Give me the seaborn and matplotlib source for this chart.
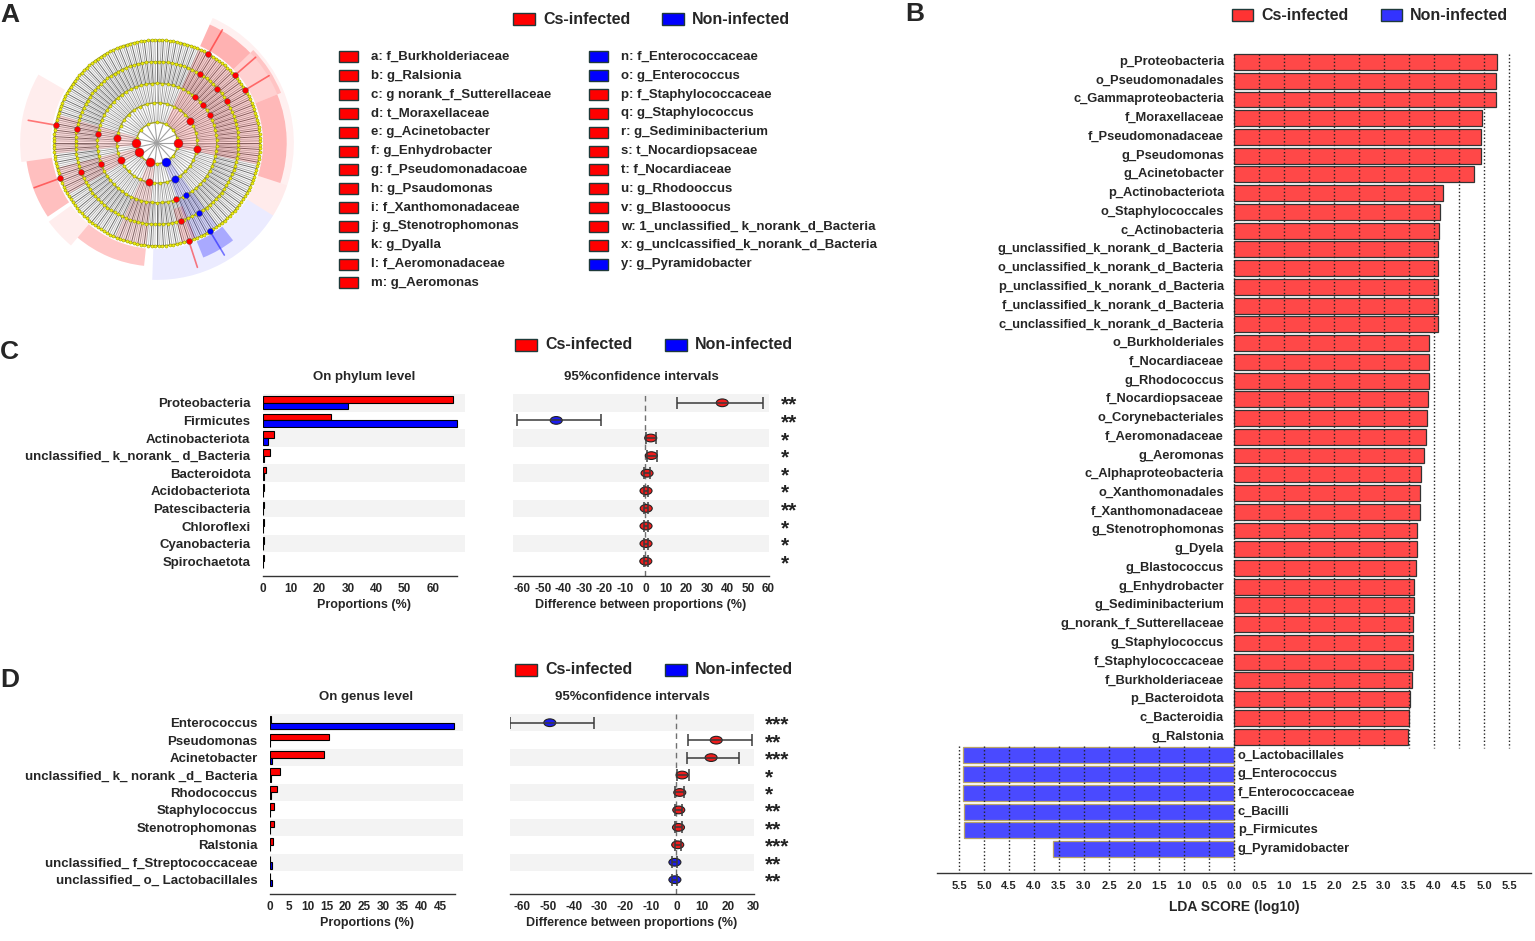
import numpy as np
import pandas as pd
import seaborn as sns
import matplotlib
matplotlib.use('Agg')
import matplotlib.pyplot as plt
from matplotlib.patches import Wedge, Rectangle
from matplotlib.path import Path
from matplotlib.transforms import Affine2D, blended_transform_factory
from matplotlib.collections import LineCollection

# ---------------- data ----------------
groups = ['Cs-infected', 'Non-infected']

# panel A: cladogram legend
clado_labels = ['a: f_Burkholderiaceae', 'b: g_Ralsionia', 'c: g norank_f_Sutterellaceae',
                'd: t_Moraxellaceae', 'e: g_Acinetobacter', 'f: g_Enhydrobacter',
                'g: f_Pseudomonadacoae', 'h: g_Psaudomonas', 'i: f_Xanthomonadaceae',
                'j: g_Stenotrophomonas', 'k: g_Dyalla', 'l: f_Aeromonadaceae', 'm: g_Aeromonas',
                'n: f_Enterococcaceae', 'o: g_Enterococcus', 'p: f_Staphylococcaceae',
                'q: g_Staphylococcus', 'r: g_Sediminibacterium', 's: t_Nocardiopsaceae',
                't: f_Nocardiaceae', 'u: g_Rhodooccus', 'v: g_Blastooocus',
                'w: 1_unclassified_ k_norank_d_Bacteria', 'x: g_unclcassified_k_norank_d_Bacteria',
                'y: g_Pyramidobacter']
clado_groups = ['Cs-infected'] * 13 + ['Non-infected'] * 2 + ['Cs-infected'] * 9 + ['Non-infected']

# cladogram biomarker nodes: group, taxonomic level (0 = phylum .. 4 = genus), angle (deg)
node_group = ['Cs-infected'] * 27 + ['Non-infected'] * 5
node_level = [0, 1, 1, 2, 2, 2, 3, 3, 3, 4, 4, 4,
              0, 1, 2, 3, 4,
              0, 1, 2, 3, 4,
              0, 1, 2, 3, 4,
              0, 1, 2, 3, 4]
node_angle = [0, 34, -8, 51, 39, 28, 58, 42, 31, 60, 41, 31,
              180, 173, 171, 170, 170,
              -153, -155, -159, -159, -160,
              -110, -101, -71, -73, -72,
              -64, -64, -61, -59, -59]
ring_radius = [0.2, 0.39, 0.58, 0.79, 1.0]
ring_nodes = [14, 36, 70, 120, 180]

# cladogram clade shading: group, inner radius, outer radius, start angle, end angle, alpha
shade_group = ['Cs-infected', 'Non-infected', 'Cs-infected', 'Cs-infected', 'Cs-infected', 'Cs-infected',
               'Cs-infected', 'Cs-infected', 'Cs-infected', 'Cs-infected', 'Non-infected', 'Non-infected',
               'Cs-infected', 'Cs-infected', 'Cs-infected', 'Cs-infected', 'Cs-infected']
shade_r0 = [0.20, 0.24, 0.20, 0.22, 0.24, 0.66, 1.03, 1.03, 1.03, 1.03, 1.03, 1.03, 1.03, 1.03, 1.03, 1.03, 1.26]
shade_r1 = [1.00, 1.00, 1.00, 1.00, 1.00, 1.00, 1.26, 1.30, 1.26, 1.33, 1.33, 1.20, 1.20, 1.30, 1.28, 1.33, 1.33]
shade_a0 = [-12, -70, 164, -166, -114, -76, 44, 22, -18, -32, -92, -68, -130, -144, -172, 150, -18]
shade_a1 = [66, -54, 186, -150, -96, -68, 66, 44, 22, -18, -32, -52, -96, -130, -146, 188, 66]
shade_alpha = [0.16, 0.14, 0.12, 0.12, 0.10, 0.15, 0.30, 0.18, 0.28, 0.08, 0.08, 0.28, 0.22, 0.07, 0.25, 0.07, 0.06]

# panel B: LDA scores
lda_names = ['p_Proteobacteria', 'o_Pseudomonadales', 'c_Gammaproteobacteria', 'f_Moraxellaceae',
             'f_Pseudomonadaceae', 'g_Pseudomonas', 'g_Acinetobacter', 'p_Actinobacteriota',
             'o_Staphylococcales', 'c_Actinobacteria', 'g_unclassified_k_norank_d_Bacteria',
             'o_unclassified_k_norank_d_Bacteria', 'p_unclassified_k_norank_d_Bacteria',
             'f_unclassified_k_norank_d_Bacteria', 'c_unclassified_k_norank_d_Bacteria',
             'o_Burkholderiales', 'f_Nocardiaceae', 'g_Rhodococcus', 'f_Nocardiopsaceae',
             'o_Corynebacteriales', 'f_Aeromonadaceae', 'g_Aeromonas', 'c_Alphaproteobacteria',
             'o_Xanthomonadales', 'f_Xanthomonadaceae', 'g_Stenotrophomonas', 'g_Dyela',
             'g_Blastococcus', 'g_Enhydrobacter', 'g_Sediminibacterium', 'g_norank_f_Sutterellaceae',
             'g_Staphylococcus', 'f_Staphylococcaceae', 'f_Burkholderiaceae', 'p_Bacteroidota',
             'c_Bacteroidia', 'g_Ralstonia',
             'o_Lactobacillales', 'g_Enterococcus', 'f_Enterococcaceae', 'c_Bacilli',
             'p_Firmicutes', 'g_Pyramidobacter']
lda_scores = [5.26, 5.24, 5.24, 4.96, 4.94, 4.94, 4.80, 4.18, 4.12, 4.10,
              4.08, 4.08, 4.08, 4.08, 4.08, 3.90, 3.90, 3.89, 3.88, 3.86,
              3.84, 3.80, 3.74, 3.72, 3.72, 3.66, 3.66, 3.64, 3.60, 3.60,
              3.58, 3.58, 3.58, 3.56, 3.52, 3.50, 3.48,
              5.42, 5.42, 5.42, 5.40, 5.40, 3.62]
lda_groups = ['Cs-infected'] * 37 + ['Non-infected'] * 6
lda_ticks = np.arange(-5.5, 5.51, 0.5)

# panel C: phylum level
phyla = ['Proteobacteria', 'Firmicutes', 'Actinobacteriota', 'unclassified_ k_norank_ d_Bacteria',
         'Bacteroidota', 'Acidobacteriota', 'Patescibacteria', 'Chloroflexi', 'Cyanobacteria',
         'Spirochaetota']
phy_cs = [67.0, 24.0, 4.0, 2.6, 1.0, 0.3, 0.4, 0.3, 0.3, 0.2]
phy_non = [30.0, 68.5, 1.8, 0.2, 0.5, 0.1, 0.1, 0.1, 0.1, 0.1]
phy_diff = [37.5, -43.5, 2.6, 2.9, 0.8, 0.3, 0.4, 0.3, 0.3, 0.2]
phy_lo = [15.6, -62.8, 0.3, 0.6, -0.6, -0.8, -0.7, -0.8, -0.8, -0.8]
phy_hi = [57.5, -21.9, 5.0, 5.6, 2.0, 1.4, 1.5, 1.4, 1.4, 1.3]
phy_sig = ['**', '**', '*', '*', '*', '*', '**', '*', '*', '*']

# panel D: genus level
genera = ['Enterococcus', 'Pseudomonas', 'Acinetobacter', 'unclassified_ k_ norank _d_ Bacteria',
          'Rhodococcus', 'Staphylococcus', 'Stenotrophomonas', 'Ralstonia',
          'unclassified_ f_Streptococcaceae', 'unclassified_ o_ Lactobacillales']
gen_cs = [0.2, 15.7, 14.3, 2.6, 1.8, 1.1, 1.1, 0.8, 0.1, 0.1]
gen_non = [48.8, 0.1, 0.5, 0.2, 0.2, 0.1, 0.1, 0.1, 0.5, 0.4]
gen_diff = [-49.3, 15.5, 13.5, 2.2, 1.3, 0.9, 0.8, 0.5, -0.6, -0.6]
gen_lo = [-64.9, 4.5, 4.3, 0.3, -0.4, -0.5, -0.5, -0.6, -1.8, -1.6]
gen_hi = [-32.0, 29.6, 24.2, 4.8, 3.0, 2.2, 2.1, 1.6, 0.4, 0.4]
gen_sig = ['***', '**', '***', '*', '*', '**', '**', '***', '**', '**']

# ---------------- style ----------------
sns.set_style('white')
plt.rcParams['font.family'] = ['Liberation Sans', 'DejaVu Sans']
plt.rcParams['font.weight'] = 'bold'
plt.rcParams['axes.labelweight'] = 'bold'
plt.rcParams['axes.titleweight'] = 'bold'
plt.rcParams['axes.unicode_minus'] = False

RED, BLUE = '#ff0000', '#0000ff'
pal_bar = {'Cs-infected': RED, 'Non-infected': BLUE}
pal_lda = {'Cs-infected': '#ff4848', 'Non-infected': '#4a4aff'}
pal_pt = {'Cs-infected': '#f01c1c', 'Non-infected': '#1c1cf0'}

W, H = 1535, 941
fig = plt.figure(figsize=(W / 100, H / 100), dpi=100)


def px_axes(x0, y0, x1, y1):
    return fig.add_axes([x0 / W, 1 - y1 / H, (x1 - x0) / W, (y1 - y0) / H])


def legend_pair(xr, xb, y, box_w=22, box_h=12, size=11.5, gap=8, colors=(RED, BLUE)):
    for x, g, c in zip((xr, xb), groups, colors):
        fig.patches.append(Rectangle((x / W, 1 - (y + box_h / 2) / H), box_w / W, box_h / H,
                                     transform=fig.transFigure, facecolor=c,
                                     edgecolor='#1f3a3a', lw=1))
        fig.text((x + box_w + gap) / W, 1 - y / H, g, fontsize=size, va='center')


def panel_letter(x, y, s):
    fig.text(x / W, 1 - y / H, s, fontsize=19, weight='bold', va='center')


def style_bottom(ax, bounds=None):
    for s in ('left', 'right', 'top'):
        ax.spines[s].set_visible(False)
    ax.spines['bottom'].set_color('#333333')
    ax.spines['bottom'].set_linewidth(1)
    if bounds is not None:
        ax.spines['bottom'].set_bounds(*bounds)
    ax.tick_params(axis='x', direction='in', length=4, width=1, color='#333333',
                   labelsize=8.5, pad=5)
    ax.tick_params(axis='y', length=0)


def stripes(ax, n):
    for i in range(0, n, 2):
        ax.axhspan(i - 0.5, i + 0.5, color='#f3f3f3', lw=0, zorder=0)


def prop_panel(ax, names, cs, non, xlim, ticks, bound, title, ylim_bottom):
    n = len(names)
    df = pd.DataFrame({'taxon': names * 2, 'value': cs + non,
                       'group': ['Cs-infected'] * n + ['Non-infected'] * n})
    sns.barplot(data=df, x='value', y='taxon', hue='group', order=names, hue_order=groups,
                palette=pal_bar, saturation=1, orient='h', width=0.76, edgecolor='black',
                linewidth=0.8, legend=False, ax=ax)
    stripes(ax, n)
    ax.set_xlim(*xlim)
    ax.set_ylim(ylim_bottom, -0.5)
    ax.set_xticks(ticks)
    style_bottom(ax, bound)
    ax.tick_params(axis='y', labelsize=9.5, pad=9)
    ax.set_ylabel('')
    ax.set_xlabel('Proportions (%)', fontsize=9, labelpad=3)
    ax.set_title(title, fontsize=9.5, pad=10)


ELLIPSE = Path.unit_circle().transformed(Affine2D().scale(1.0, 0.64))


def ci_panel(ax, names, diff, lo, hi, sig, xlim, ticks, ylim_bottom):
    n = len(names)
    rows = np.arange(n)
    stripes(ax, n)
    ax.axvline(0, color='#707070', ls=(0, (4, 3)), lw=1, zorder=1)
    direction = ['Cs-infected' if d > 0 else 'Non-infected' for d in diff]
    sns.scatterplot(x=diff, y=rows, hue=direction, palette=pal_pt, marker=ELLIPSE, s=75,
                    edgecolor='#222222', linewidth=0.8, legend=False, zorder=3, ax=ax)
    d = np.array(diff)
    ax.errorbar(d, rows, xerr=[d - np.array(lo), np.array(hi) - d], fmt='none',
                ecolor='#3a3a3a', elinewidth=1.1, capsize=4, capthick=1.1, zorder=4)
    tr = blended_transform_factory(ax.transAxes, ax.transData)
    for r, s in zip(rows, sig):
        ax.text(1.046, r + 0.45, s, transform=tr, fontsize=15, ha='left', va='baseline',
                color='#222222')
    ax.set_xlim(*xlim)
    ax.set_ylim(ylim_bottom, -0.5)
    ax.set_yticks([])
    ax.set_xticks(ticks)
    style_bottom(ax)
    ax.set_xlabel('Difference between proportions (%)', fontsize=9, labelpad=3)
    ax.set_title('95%confidence intervals', fontsize=9.5, pad=10)


# ---------------- panel A ----------------
panel_letter(0, 15, 'A')
legend_pair(513, 662, 19)
axA = px_axes(17, 3, 297, 283)
axA.set_xlim(-1.36, 1.36)
axA.set_ylim(-1.36, 1.36)
axA.set_aspect('equal')
axA.axis('off')

# tree spokes (leaves evenly spaced around the circle)
for r0, r1, step, cols, lw in [(0.0, 0.2, 24, ['#a0a0a0'], 0.8),
                               (0.2, 0.39, 4, ['#9a9a9a', '#c4c4c4'], 0.7),
                               (0.39, 0.58, 2, ['#8e8e8e', '#bcbcbc'], 0.6),
                               (0.58, 1.0, 1.2, ['#6e6e6e', '#a8a8a8', '#c6c6c6'], 0.7)]:
    ang = np.deg2rad(np.arange(0, 360, step))
    segs = [[(r0 * np.cos(a), r0 * np.sin(a)), (r1 * np.cos(a), r1 * np.sin(a))] for a in ang]
    axA.add_collection(LineCollection(segs, colors=[cols[i % len(cols)] for i in range(len(segs))],
                                      linewidths=lw, zorder=1))

for g, r0, r1, a0, a1, al in zip(shade_group, shade_r0, shade_r1, shade_a0, shade_a1, shade_alpha):
    axA.add_patch(Wedge((0, 0), r1, a0, a1, width=r1 - r0, facecolor=pal_bar[g],
                        alpha=al, lw=0, zorder=2))

for r, cnt in zip(ring_radius, ring_nodes):
    axA.add_patch(plt.Circle((0, 0), r, fill=False, color='#a0a020', lw=1.0, zorder=3))
    ang = np.deg2rad(np.linspace(0, 360, cnt, endpoint=False) + 360 / cnt / 2)
    axA.scatter(r * np.cos(ang), r * np.sin(ang), s=5, c='#eeee10', edgecolors='#8a8a00',
                linewidths=0.3, zorder=4)

for g, lv, a in zip(node_group, node_level, node_angle):
    r = ring_radius[lv]
    t = np.deg2rad(a)
    if lv == 4:
        axA.plot([1.0 * np.cos(t), 1.27 * np.cos(t)], [1.0 * np.sin(t), 1.27 * np.sin(t)],
                 color=pal_bar[g], alpha=0.5, lw=1.2, zorder=3)
    axA.scatter([r * np.cos(t)], [r * np.sin(t)], s=[42, 28, 18, 18, 18][lv],
                c=pal_bar[g], edgecolors='#555555', linewidths=0.3, zorder=5)

for i, (lab, g) in enumerate(zip(clado_labels, clado_groups)):
    col, row = (0, i) if i < 13 else (1, i - 13)
    bx = [339, 589][col]
    tx = [371, 621][col]
    y = 57 + row * 18.83
    fig.patches.append(Rectangle((bx / W, 1 - (y + 5.5) / H), 19 / W, 11 / H,
                                 transform=fig.transFigure, facecolor=pal_bar[g],
                                 edgecolor='#1f3a3a', lw=1))
    fig.text(tx / W, 1 - y / H, lab, fontsize=9.5, va='center')

# ---------------- panel B ----------------
panel_letter(905, 14, 'B')
legend_pair(1232, 1381, 15, box_w=21, colors=('#ff3333', '#3333ff'))
axB = px_axes(937, 50.4, 1531, 873)
signed = [s if g == 'Cs-infected' else -s for s, g in zip(lda_scores, lda_groups)]
sns.barplot(x=signed, y=lda_names, hue=lda_groups, hue_order=groups, palette=pal_lda,
            saturation=1, order=lda_names, dodge=False, orient='h', width=0.85,
            edgecolor='#333333', linewidth=0.9, legend=False, ax=axB)
for p in axB.patches:
    if p.get_width() < 0:
        p.set_edgecolor('#b8a468')
n_red = lda_groups.count('Cs-infected')
axB.set_xlim(-5.94, 5.94)
axB.set_ylim(len(lda_names) - 1 + 1.28, -0.62)
pos = np.arange(0, 5.51, 0.5)
axB.vlines(pos, -0.45, n_red - 0.4, colors='#222222', linestyles=(0, (1, 1.6)), lw=1, zorder=4)
axB.vlines(-pos, n_red - 0.5, len(lda_names) + 0.3, colors='#222222', linestyles=(0, (1, 1.6)),
           lw=1, zorder=4)
for i, (nm, g) in enumerate(zip(lda_names, lda_groups)):
    if g == 'Cs-infected':
        axB.text(-0.2, i, nm, ha='right', va='center', fontsize=9.3)
    else:
        axB.text(0.08, i, nm, ha='left', va='center', fontsize=9.3)
axB.set_yticks([])
axB.set_xticks(lda_ticks)
axB.set_xticklabels([f'{abs(t):.1f}' for t in lda_ticks])
style_bottom(axB)
axB.tick_params(axis='x', labelsize=8, length=5, pad=6)
axB.set_xlabel('LDA SCORE (log10)', fontsize=10, labelpad=6)

# ---------------- panel C ----------------
panel_letter(0, 352, 'C')
legend_pair(515, 665, 345)
axC1 = px_axes(263, 394, 465, 576)
prop_panel(axC1, phyla, phy_cs, phy_non, (0, 71.4), np.arange(0, 61, 10), (0, 68.5),
           'On phylum level', 9.84)
axC2 = px_axes(513, 394, 769, 576)
ci_panel(axC2, phyla, phy_diff, phy_lo, phy_hi, phy_sig, (-64.6, 60.3),
         np.arange(-60, 61, 10), 9.84)

# ---------------- panel D ----------------
panel_letter(0, 680, 'D')
legend_pair(515, 665, 670)
axD1 = px_axes(270, 714, 463, 894)
prop_panel(axD1, genera, gen_cs, gen_non, (0, 51.1), np.arange(0, 46, 5), (0, 49),
           'On genus level', 9.82)
axD2 = px_axes(510, 714, 754, 894)
ci_panel(axD2, genera, gen_diff, gen_lo, gen_hi, gen_sig, (-64.8, 30.2),
         np.arange(-60, 31, 10), 9.82)

fig.savefig('out.png', dpi=100)
